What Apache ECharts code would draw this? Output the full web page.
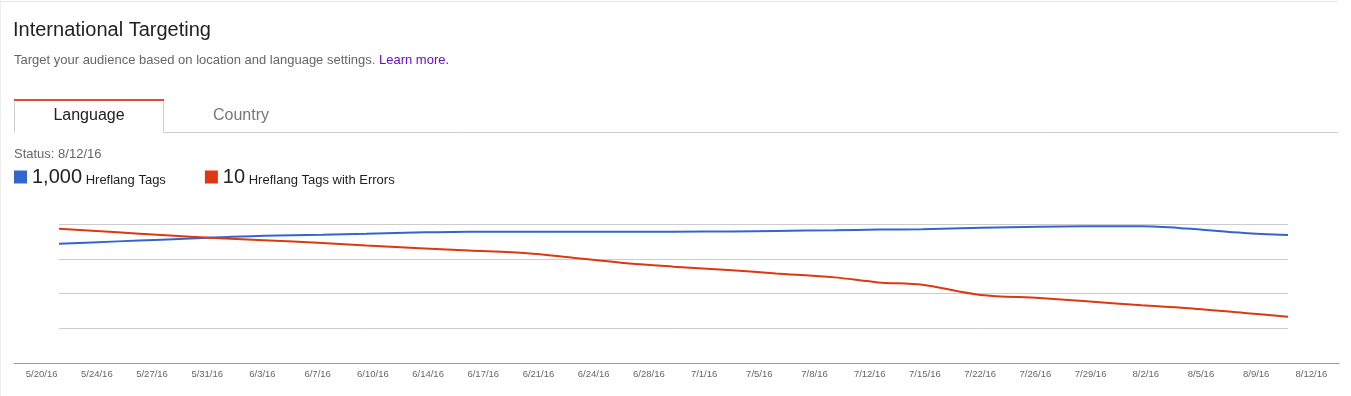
<!DOCTYPE html>
<html>
<head>
<meta charset="utf-8">
<script src="https://cdn.jsdelivr.net/npm/echarts@6/dist/echarts.min.js"></script>
<style>
html,body{margin:0;padding:0;background:#fff;}
#chart{width:1351px;height:396px;}
</style>
</head>
<body>
<div id="chart"></div>
<script>
// ---- data ----
const tickLabels = ['5/20/16','5/24/16','5/27/16','5/31/16','6/3/16','6/7/16','6/10/16','6/14/16','6/17/16','6/21/16','6/24/16','6/28/16','7/1/16','7/5/16','7/8/16','7/12/16','7/15/16','7/22/16','7/26/16','7/29/16','8/2/16','8/5/16','8/9/16','8/12/16'];
const pointDates = ['2016-05-20','2016-05-24','2016-05-27','2016-05-31','2016-06-03','2016-06-07','2016-06-10','2016-06-14','2016-06-17','2016-06-21','2016-06-24','2016-06-28','2016-07-01','2016-07-05','2016-07-08','2016-07-12','2016-07-15','2016-07-18','2016-07-22','2016-07-26','2016-07-29','2016-08-02','2016-08-05','2016-08-09','2016-08-12'];
const tagValues = [85.8,87.5,88.7,90.4,91.6,92.3,92.9,94.0,94.5,94.5,94.5,94.5,94.5,94.6,95.0,95.5,96.0,96.3,97.3,98.1,98.3,98.3,96.8,93.6,92.1];
const errorValues = [96.6,94.0,92.1,89.7,88.3,86.3,84.5,82.4,80.9,79.0,75.9,71.5,69.3,66.7,64.4,61.6,58.0,56.3,49.0,46.8,44.6,41.5,39.6,36.0,33.3];
const seriesNames = ['Hreflang Tags','Hreflang Tags with Errors'];
const seriesCounts = ['1,000','10'];
const seriesColors = ['#3366cc','#dc3912'];

const FONT = 'Arial, "Liberation Sans", sans-serif';
const chart = echarts.init(document.getElementById('chart'), null, {renderer:'canvas'});

const countByName = {};
seriesNames.forEach((n,i)=>{countByName[n]=seriesCounts[i];});

chart.setOption({
  animation:false,
  backgroundColor:'#fff',
  textStyle:{fontFamily:FONT},
  graphic:[
    {type:'line', shape:{x1:0,y1:1.5,x2:1338,y2:1.5}, style:{stroke:'#e5e5e5',lineWidth:1}},
    {type:'line', shape:{x1:0.5,y1:0,x2:0.5,y2:396}, style:{stroke:'#eeeeee',lineWidth:1}},
    {type:'text', x:13, y:30.9, style:{text:'International Targeting', fontSize:20, fontFamily:FONT, fill:'#222', verticalAlign:'middle', align:'left'}},
    {type:'text', x:14, y:60.3, style:{text:'{a|Target your audience based on location and language settings. }{b|Learn more.}', fontSize:13, fontFamily:FONT, verticalAlign:'middle', align:'left',
      rich:{a:{fontSize:13,fontFamily:FONT,fill:'#666'}, b:{fontSize:13,fontFamily:FONT,fill:'#6611cc'}}}},
    // tabs
    {type:'line', shape:{x1:14.5,y1:100,x2:14.5,y2:132.5}, style:{stroke:'#cccccc',lineWidth:1}},
    {type:'line', shape:{x1:163.5,y1:100,x2:163.5,y2:132.5}, style:{stroke:'#cccccc',lineWidth:1}},
    {type:'line', shape:{x1:163.5,y1:132.5,x2:1338,y2:132.5}, style:{stroke:'#cccccc',lineWidth:1}},
    {type:'line', shape:{x1:14,y1:100,x2:164,y2:100}, style:{stroke:'#dd4b39',lineWidth:2}},
    {type:'text', x:89, y:115.3, style:{text:'Language', fontSize:16, fontFamily:FONT, fill:'#222', verticalAlign:'middle', align:'center'}},
    {type:'text', x:241, y:115.3, style:{text:'Country', fontSize:16, fontFamily:FONT, fill:'#777', verticalAlign:'middle', align:'center'}},
    {type:'text', x:14, y:154.3, style:{text:'Status: 8/12/16', fontSize:13, fontFamily:FONT, fill:'#666', verticalAlign:'middle', align:'left'}}
  ],
  legend:{
    left:14, top:167, padding:0, itemGap:39, itemWidth:13, itemHeight:13, icon:'rect',
    selectedMode:false,
    data:seriesNames,
    formatter:function(name){ return '{big|' + countByName[name] + '}{small| ' + name + '}'; },
    textStyle:{color:'#222', fontSize:13, fontFamily:FONT,
      rich:{
        big:{fontSize:20, lineHeight:20, color:'#222', fontFamily:FONT},
        small:{fontSize:13, lineHeight:14, color:'#222', fontFamily:FONT, verticalAlign:'bottom'}
      }}
  },
  grid:[
    {left:14, right:12, top:224, bottom:33},
    {left:59, right:63, top:224, bottom:33}
  ],
  xAxis:[
    {type:'category', gridIndex:0, data:tickLabels, boundaryGap:true, z:5,
     axisLine:{show:true, lineStyle:{color:'#999', width:1}},
     axisTick:{show:false},
     axisLabel:{interval:0, color:'#666', fontSize:9.5, fontFamily:FONT, margin:6.5},
     splitLine:{show:false}},
    {type:'time', gridIndex:1, min:'2016-05-20', max:'2016-08-12', show:false}
  ],
  yAxis:[
    {type:'value', gridIndex:0, show:false, min:0, max:100, interval:25, splitLine:{show:false}},
    {type:'value', gridIndex:1, min:0, max:100, interval:25,
     axisLine:{show:false}, axisTick:{show:false}, axisLabel:{show:false},
     splitLine:{show:true, lineStyle:{color:'#cccccc', width:1}}}
  ],
  series:[
    {name:seriesNames[0], type:'line', xAxisIndex:1, yAxisIndex:1, smooth:0.3, showSymbol:false,
     color:seriesColors[0], lineStyle:{width:2, color:seriesColors[0]},
     data:pointDates.map((d,i)=>[d, tagValues[i]])},
    {name:seriesNames[1], type:'line', xAxisIndex:1, yAxisIndex:1, smooth:0.3, showSymbol:false,
     color:seriesColors[1], lineStyle:{width:2, color:seriesColors[1]},
     data:pointDates.map((d,i)=>[d, errorValues[i]])}
  ]
});
</script>
</body>
</html>
